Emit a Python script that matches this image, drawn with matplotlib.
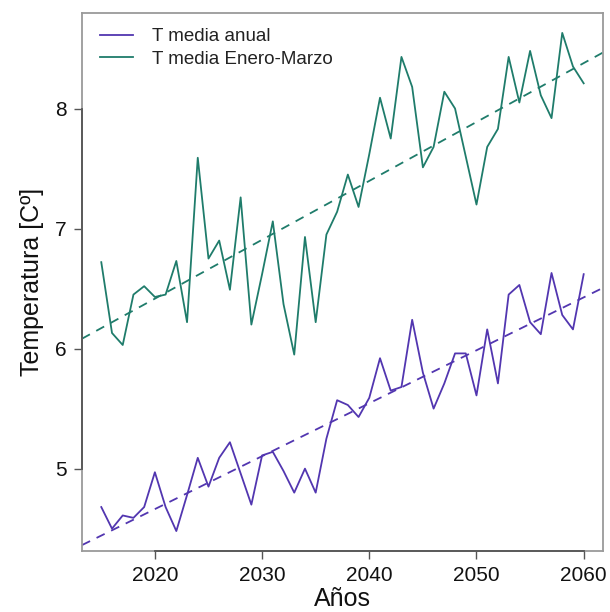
import numpy as np
import matplotlib
matplotlib.use("Agg")
import matplotlib.pyplot as plt

plt.rcParams["font.family"] = ["Liberation Sans", "DejaVu Sans"]

years = np.arange(2015, 2061)

t_anual = [4.68, 4.50, 4.61, 4.59, 4.68, 4.97, 4.68, 4.48, 4.78, 5.09,
           4.85, 5.09, 5.22, 4.96, 4.70, 5.11, 5.14, 4.98, 4.80, 5.00,
           4.80, 5.25, 5.57, 5.53, 5.43, 5.59, 5.92, 5.65, 5.68, 6.24,
           5.80, 5.50, 5.71, 5.96, 5.96, 5.61, 6.16, 5.71, 6.45, 6.53,
           6.22, 6.12, 6.63, 6.28, 6.16, 6.62]

t_ene_mar = [6.72, 6.13, 6.03, 6.45, 6.52, 6.43, 6.45, 6.73, 6.22, 7.59,
             6.75, 6.90, 6.49, 7.26, 6.20, 6.62, 7.06, 6.37, 5.95, 6.93,
             6.22, 6.95, 7.14, 7.45, 7.18, 7.62, 8.09, 7.75, 8.43, 8.18,
             7.51, 7.68, 8.14, 8.00, 7.60, 7.20, 7.68, 7.83, 8.43, 8.05,
             8.48, 8.11, 7.92, 8.63, 8.35, 8.21]

series_labels = ["T media anual", "T media Enero-Marzo"]
x_ticks = [2020, 2030, 2040, 2050, 2060]
y_ticks = [5, 6, 7, 8]

col_anual = "#5236b0"
col_em = "#1f7c6b"

fig = plt.figure(figsize=(6.10, 6.12), dpi=100)
ax = fig.add_axes([0.1344, 0.0997, 0.8541, 0.8791])

ax.plot(years, t_anual, color=col_anual, lw=1.3, label=series_labels[0])
ax.plot(years, t_ene_mar, color=col_em, lw=1.3, label=series_labels[1])

# R-style axis extent (4% padding)
xr = years.max() - years.min()
x0, x1 = years.min() - 0.04 * xr, years.max() + 0.04 * xr
allv = np.concatenate([t_anual, t_ene_mar])
yr = allv.max() - allv.min()
y0, y1 = allv.min() - 0.04 * yr, allv.max() + 0.04 * yr

# linear trends across the full plotting width
xx = np.array([x0, x1])
for vals, col in [(t_anual, col_anual), (t_ene_mar, col_em)]:
    b, a = np.polyfit(years, vals, 1)
    ax.plot(xx, a + b * xx, color=col, lw=1.3, ls=(0, (5, 4)))

ax.set_xlim(x0, x1)
ax.set_ylim(y0, y1)

ax.set_xticks(x_ticks)
ax.set_yticks(y_ticks)
ax.tick_params(axis="both", direction="out", length=6, width=1.0,
               color="#555555", labelsize=15, labelcolor="#111111", pad=5)

for s in ax.spines.values():
    s.set_color("#9a9a9a")
    s.set_linewidth(1.3)

# axis lines spanning the tick range
ax.plot([x_ticks[0], x_ticks[-1]], [y0, y0], color="#555555", lw=1.3,
        clip_on=False, zorder=5)
ax.plot([x0, x0], [y_ticks[0], y_ticks[-1]], color="#555555", lw=1.3,
        clip_on=False, zorder=5)

ax.set_xlabel("Años", fontsize=18, labelpad=1, color="#111111")
ax.set_ylabel("Temperatura [Cº]", fontsize=18, labelpad=8, color="#111111")

ax.legend(loc="upper left", frameon=False, fontsize=13.5, handlelength=1.8,
          handletextpad=1.0, labelspacing=0.3, borderaxespad=0.4,
          bbox_to_anchor=(0.005, 1.0), labelcolor="#222222")

fig.savefig("out.png", dpi=100)
